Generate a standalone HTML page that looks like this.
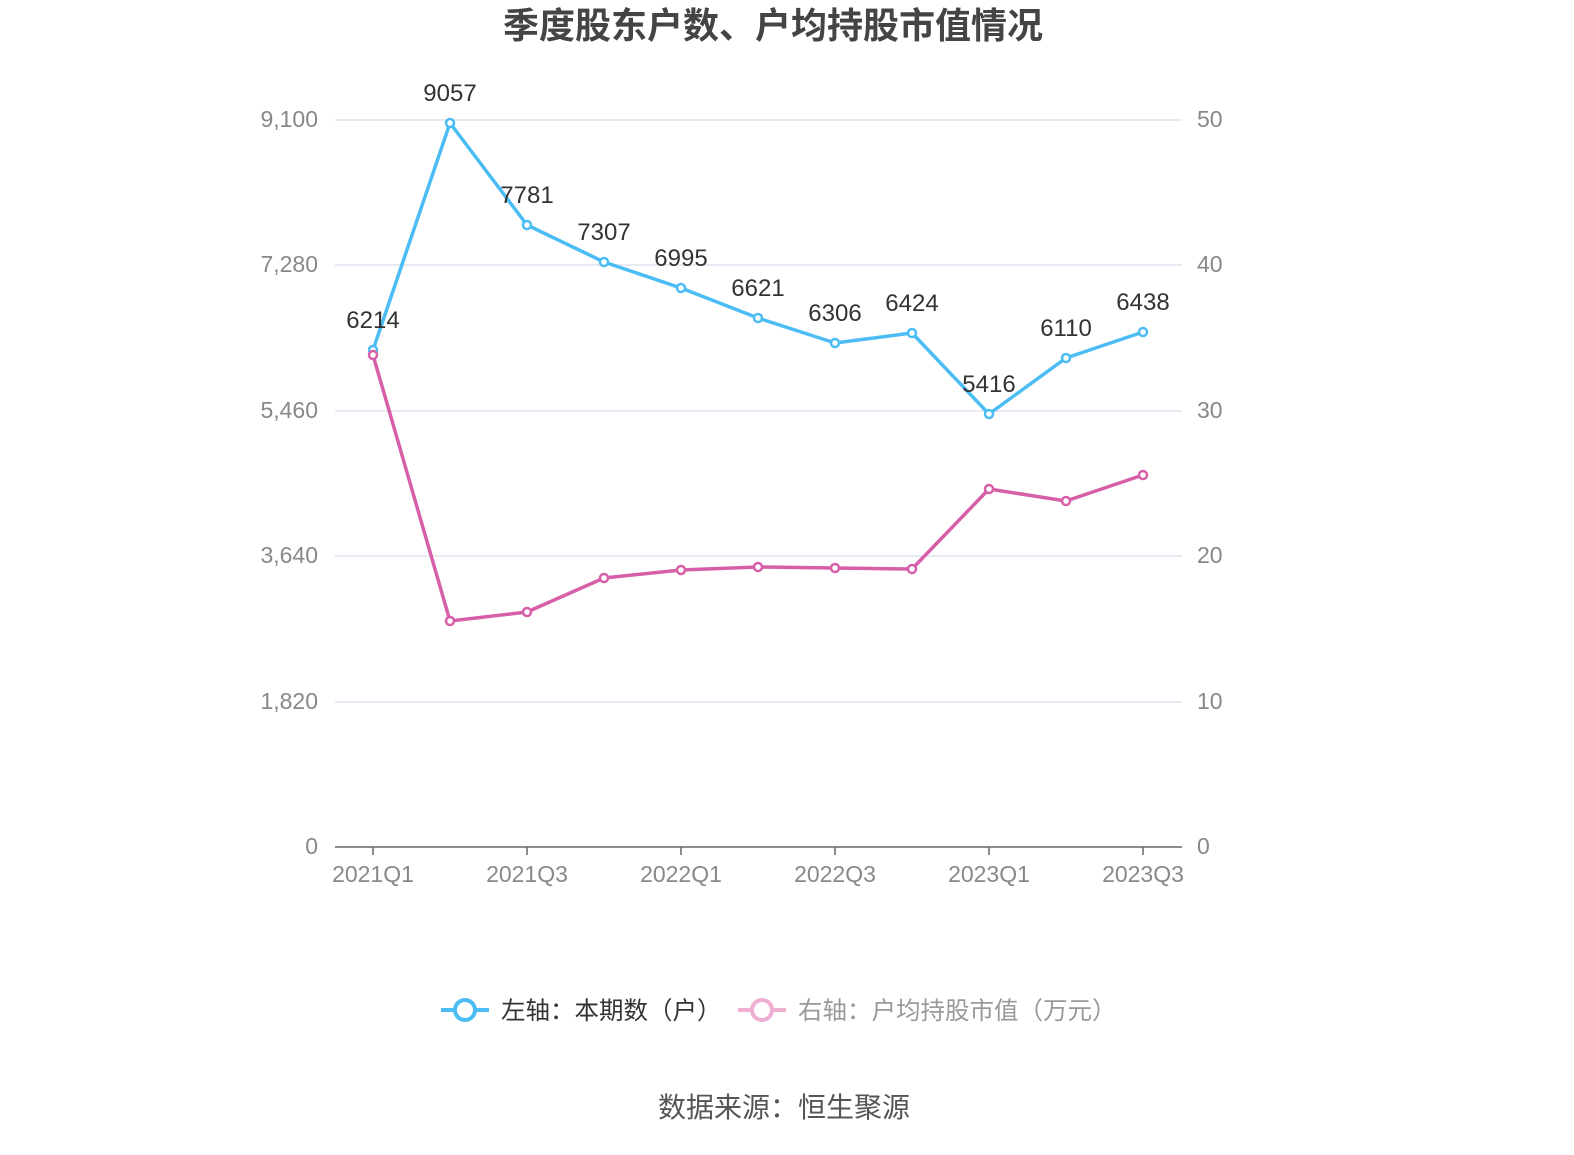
<!DOCTYPE html>
<html><head><meta charset="utf-8"><style>
body{margin:0;background:#fff;}
svg text{font-family:"Liberation Sans","Noto Sans CJK SC",sans-serif;}
</style></head><body>
<svg width="1574" height="1150" xmlns="http://www.w3.org/2000/svg">
<text x="773" y="38" text-anchor="middle" font-size="36" font-weight="bold" fill="#444">季度股东户数、户均持股市值情况</text>
<g stroke="#dfe3ee" stroke-width="1.5">
<line x1="335" y1="120" x2="1182" y2="120"/><line x1="335" y1="265" x2="1182" y2="265"/>
<line x1="335" y1="411" x2="1182" y2="411"/><line x1="335" y1="556" x2="1182" y2="556"/>
<line x1="335" y1="702" x2="1182" y2="702"/>
</g>
<line x1="335" y1="847" x2="1182" y2="847" stroke="#666" stroke-width="1.5"/>
<g stroke="#666" stroke-width="1.5">
<line x1="373" y1="847" x2="373" y2="855"/><line x1="527" y1="847" x2="527" y2="855"/><line x1="681" y1="847" x2="681" y2="855"/><line x1="835" y1="847" x2="835" y2="855"/><line x1="989" y1="847" x2="989" y2="855"/><line x1="1143" y1="847" x2="1143" y2="855"/>
</g>
<g font-size="23" fill="#888" text-anchor="end">
<text x="318" y="127">9,100</text><text x="318" y="272">7,280</text><text x="318" y="418">5,460</text><text x="318" y="563">3,640</text><text x="318" y="709">1,820</text><text x="318" y="854">0</text>
</g>
<g font-size="23" fill="#888">
<text x="1197" y="127">50</text><text x="1197" y="272">40</text><text x="1197" y="418">30</text><text x="1197" y="563">20</text><text x="1197" y="709">10</text><text x="1197" y="854">0</text>
</g>
<g font-size="23" fill="#888" text-anchor="middle">
<text x="373" y="882">2021Q1</text><text x="527" y="882">2021Q3</text><text x="681" y="882">2022Q1</text><text x="835" y="882">2022Q3</text><text x="989" y="882">2023Q1</text><text x="1143" y="882">2023Q3</text>
</g>
<polyline fill="none" stroke="#4bbdf4" stroke-width="3.5" stroke-linejoin="round" points="373,350 450,123 527,225 604,262 681,288 758,318 835,343 912,333 989,414 1066,358 1143,332"/>
<g fill="#fff" stroke="#4bbdf4" stroke-width="2.5">
<circle cx="373" cy="350" r="4"/><circle cx="450" cy="123" r="4"/><circle cx="527" cy="225" r="4"/><circle cx="604" cy="262" r="4"/><circle cx="681" cy="288" r="4"/><circle cx="758" cy="318" r="4"/><circle cx="835" cy="343" r="4"/><circle cx="912" cy="333" r="4"/><circle cx="989" cy="414" r="4"/><circle cx="1066" cy="358" r="4"/><circle cx="1143" cy="332" r="4"/>
</g>
<polyline fill="none" stroke="#d65fa8" stroke-width="3.5" stroke-linejoin="round" points="373,355 450,621 527,612 604,578 681,570 758,567 835,568 912,569 989,489 1066,501 1143,475"/>
<g fill="#fff" stroke="#d65fa8" stroke-width="2.5">
<circle cx="373" cy="355" r="4"/><circle cx="450" cy="621" r="4"/><circle cx="527" cy="612" r="4"/><circle cx="604" cy="578" r="4"/><circle cx="681" cy="570" r="4"/><circle cx="758" cy="567" r="4"/><circle cx="835" cy="568" r="4"/><circle cx="912" cy="569" r="4"/><circle cx="989" cy="489" r="4"/><circle cx="1066" cy="501" r="4"/><circle cx="1143" cy="475" r="4"/>
</g>
<g font-size="24" fill="#333" text-anchor="middle">
<text x="373" y="328">6214</text><text x="450" y="101">9057</text><text x="527" y="203">7781</text><text x="604" y="240">7307</text><text x="681" y="266">6995</text><text x="758" y="296">6621</text><text x="835" y="321">6306</text><text x="912" y="311">6424</text><text x="989" y="392">5416</text><text x="1066" y="336">6110</text><text x="1143" y="310">6438</text>
</g>
<line x1="441" y1="1010" x2="489" y2="1010" stroke="#4bbdf4" stroke-width="4"/>
<circle cx="465" cy="1010" r="10" fill="#fff" stroke="#4bbdf4" stroke-width="4"/>
<text x="501" y="1019" font-size="24.5" fill="#333">左轴：本期数（户）</text>
<line x1="738" y1="1010" x2="786" y2="1010" stroke="#eeafd3" stroke-width="4"/>
<circle cx="762" cy="1010" r="10" fill="#fff" stroke="#eeafd3" stroke-width="4"/>
<text x="798" y="1019" font-size="24.5" fill="#999">右轴：户均持股市值（万元）</text>
<text x="784" y="1117" font-size="28" fill="#555" text-anchor="middle">数据来源：恒生聚源</text>
</svg>
</body></html>
